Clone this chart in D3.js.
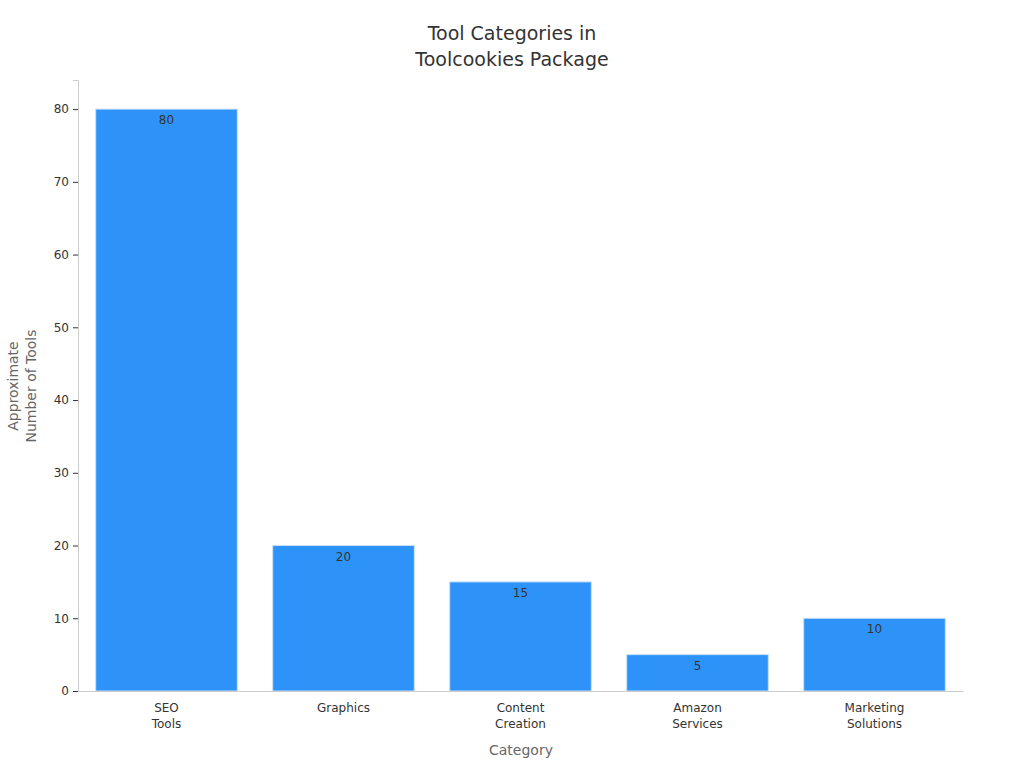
<!DOCTYPE html>
<html>
<head>
<meta charset="utf-8">
<script src="https://cdn.jsdelivr.net/npm/d3@7"></script>
<style>
  body { margin: 0; background: #fff; font-family: "DejaVu Sans", sans-serif; }
  svg text { font-family: "DejaVu Sans", sans-serif; }
</style>
</head>
<body>
<svg id="chart" width="1024" height="768"></svg>
<script>
// chart data
var categories = [["SEO", "Tools"], ["Graphics"], ["Content", "Creation"], ["Amazon", "Services"], ["Marketing", "Solutions"]];
var toolCounts = [80, 20, 15, 5, 10];
var yTicks = [0, 10, 20, 30, 40, 50, 60, 70, 80];

var svg = d3.select("#chart");
var plotLeft = 78, plotRight = 963, plotTop = 80, plotBottom = 691;

var x = d3.scaleBand().domain(d3.range(categories.length)).range([plotLeft, plotRight]).paddingInner(0.2).paddingOuter(0.1);
var y = d3.scaleLinear().domain([0, 84]).range([plotBottom, plotTop]);

// title
svg.append("text").attr("x", 512).attr("text-anchor", "middle").attr("font-size", 19).attr("fill", "#333")
  .selectAll("tspan").data(["Tool Categories in", "Toolcookies Package"]).enter().append("tspan")
  .attr("x", 512).attr("y", function(d, i) { return 40 + i * 26; }).text(function(d) { return d; });

// bars
svg.selectAll("rect.bar").data(toolCounts).enter().append("rect")
  .attr("class", "bar")
  .attr("x", function(d, i) { return x(i); })
  .attr("width", x.bandwidth())
  .attr("y", function(d) { return y(d); })
  .attr("height", function(d) { return plotBottom - y(d); })
  .attr("fill", "#2e93f9").attr("stroke", "#c8e0f8").attr("stroke-width", 1);

// y axis
var yAxis = svg.append("g").attr("transform", "translate(" + plotLeft + ",0)")
  .call(d3.axisLeft(y).tickValues(yTicks).tickSize(5).tickPadding(4));
yAxis.select(".domain").attr("stroke", "#ccc");
yAxis.selectAll(".tick line").attr("stroke", "#333");
yAxis.selectAll("text").attr("font-size", 12).attr("fill", "#333");

// x axis
var xAxis = svg.append("g").attr("transform", "translate(0," + plotBottom + ")")
  .call(d3.axisBottom(x).tickSize(0).tickFormat(""));
xAxis.select(".domain").attr("stroke", "#ccc");
xAxis.selectAll(".tick").each(function(d) {
  var t = d3.select(this).append("text").attr("fill", "#333").attr("font-size", 12).attr("text-anchor", "middle");
  categories[d].forEach(function(line, i) {
    t.append("tspan").attr("x", 0).attr("y", 21 + i * 16).text(line);
  });
});

// value labels
svg.selectAll("text.val").data(toolCounts).enter().append("text")
  .attr("class", "val")
  .attr("x", function(d, i) { return x(i) + x.bandwidth() / 2; })
  .attr("y", function(d) { return y(d) + 15; })
  .attr("text-anchor", "middle").attr("font-size", 12).attr("fill", "#333")
  .text(function(d) { return d; });

// axis titles
svg.append("text").attr("x", 521).attr("y", 755).attr("text-anchor", "middle")
  .attr("font-size", 14).attr("fill", "#666").text("Category");
var yl = svg.append("text").attr("transform", "translate(0,386) rotate(-90)").attr("text-anchor", "middle")
  .attr("font-size", 14).attr("fill", "#666");
["Approximate", "Number of Tools"].forEach(function(line, i) {
  yl.append("tspan").attr("x", 0).attr("y", 18 + i * 18).text(line);
});
</script>
</body>
</html>
